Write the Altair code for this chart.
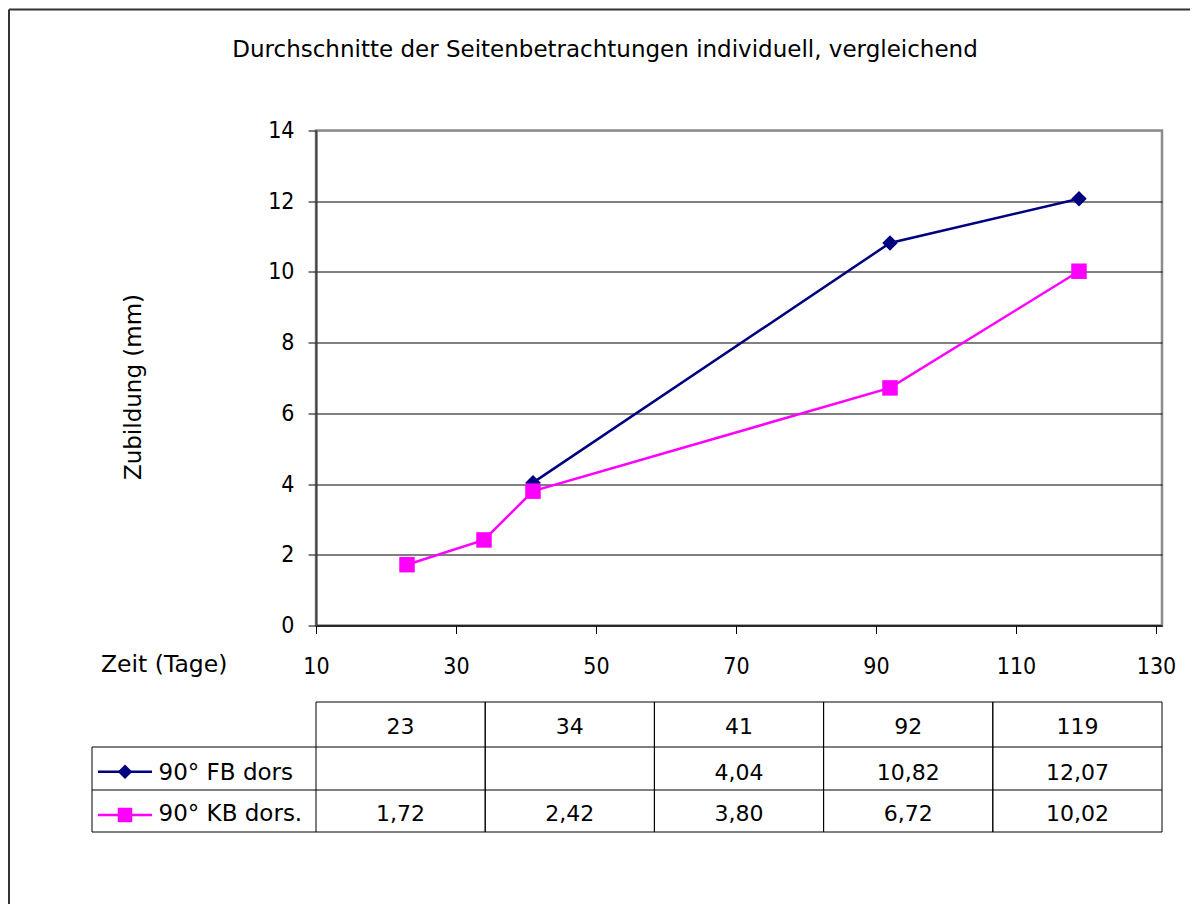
import altair as alt
import pandas as pd

# ---------------- data ----------------
days = [23, 34, 41, 92, 119]
series_names = ["90° FB dors", "90° KB dors."]
fb_values = [None, None, 4.04, 10.82, 12.07]
kb_values = [1.72, 2.42, 3.80, 6.72, 10.02]
x_ticks = [10, 30, 50, 70, 90, 110, 130]
y_ticks = [0, 2, 4, 6, 8, 10, 12, 14]

title_text = "Durchschnitte der Seitenbetrachtungen individuell, vergleichend"
x_title = "Zeit (Tage)"
y_title = "Zubildung (mm)"

colors = ["#000080", "#FF00FF"]
shapes = ["diamond", "square"]

FONT_NUM = "DejaVu Sans Condensed"
FONT_TXT = "DejaVu Sans"
FS_TICK = 23
FS_TXT = 23
FS_TABLE = 22
W, H = 846, 495

# long-format data for lines
rows = []
for name, vals in zip(series_names, [fb_values, kb_values]):
    for d, v in zip(days, vals):
        if v is not None:
            rows.append({"Serie": name, "Zeit": d, "Zubildung": v})
line_df = pd.DataFrame(rows)

day_cols = [str(d) for d in days]


def fmt(v):
    return "" if v is None else f"{v:.2f}".replace(".", ",")


header_df = pd.DataFrame({"col": day_cols})
fb_row_df = pd.DataFrame({"col": day_cols, "label": [fmt(v) for v in fb_values]})
kb_row_df = pd.DataFrame({"col": day_cols, "label": [fmt(v) for v in kb_values]})

one = pd.DataFrame({"a": [0]})

color_scale = alt.Scale(domain=series_names, range=colors)
shape_scale = alt.Scale(domain=series_names, range=shapes)

# ---------------- main plot ----------------
x_enc = alt.X(
    "Zeit:Q",
    scale=alt.Scale(domain=[10, 10 + W / 7.0], nice=False, zero=False),
    axis=alt.Axis(
        values=x_ticks, grid=False, title=None, tickSize=8, tickColor="black",
        domainColor="black", domainWidth=1, labelFontSize=FS_TICK, labelFont=FONT_NUM,
        labelColor="black", labelPadding=22, labelFlush=False, labelOverlap=False,
    ),
)
y_enc = alt.Y(
    "Zubildung:Q",
    scale=alt.Scale(domain=[0, 14], nice=False),
    axis=alt.Axis(
        values=y_ticks, grid=True,
        gridColor=alt.condition("datum.value == 14", alt.value("#8c8c8c"), alt.value("black")),
        gridWidth=1, title=None, tickSize=8, tickColor="black",
        domainColor="#404040", domainWidth=2, labelFontSize=FS_TICK, labelFont=FONT_NUM,
        labelColor="black", labelPadding=14,
    ),
)

lines = alt.Chart(line_df).mark_line(strokeWidth=2.5).encode(
    x=x_enc, y=y_enc,
    color=alt.Color("Serie:N", scale=color_scale, legend=None),
    detail="Serie:N",
)
points = alt.Chart(line_df).mark_point(filled=True, opacity=1, size=240).encode(
    x="Zeit:Q", y="Zubildung:Q",
    color=alt.Color("Serie:N", scale=color_scale, legend=None),
    shape=alt.Shape("Serie:N", scale=shape_scale, legend=None),
)
main = alt.layer(lines, points)

# ---------------- decorations ----------------
def text_layer(txt, x, y, align="center", baseline="alphabetic", angle=0,
               size=FS_TXT, font=FONT_TXT):
    kw = dict(text=txt, align=align, baseline=baseline, font=font, fontSize=size, color="black")
    if angle:
        kw["angle"] = angle
    return alt.Chart(one).mark_text(**kw).encode(x=alt.value(x), y=alt.value(y))


def hrule(x1, x2, y, color="black", w=1):
    return alt.Chart(one).mark_rule(color=color, strokeWidth=w).encode(
        x=alt.value(x1), x2=alt.value(x2), y=alt.value(y)
    )


def vrule(x, y1, y2, color="black", w=1):
    return alt.Chart(one).mark_rule(color=color, strokeWidth=w).encode(
        x=alt.value(x), y=alt.value(y1), y2=alt.value(y2)
    )


# outer frame (left & top visible)
frame_top = hrule(-307, W + 40, -121, color="#333333", w=2)
frame_left = vrule(-307, -121, 800, color="#333333", w=2)

title = text_layer(title_text, 289, -74)
xt = text_layer(x_title, -215, 541, align="left", size=23.5)
yt = text_layer(y_title, -175, 256.5, angle=270)

# ---------------- data table ----------------
T0, T1, T2, T3 = 571.5, 616.5, 659.5, 701.5
LX = -224

band = alt.Scale(domain=day_cols, paddingInner=0, paddingOuter=0)


def col_x(bp=0.5):
    return alt.X("col:N", scale=band, axis=None, sort=day_cols, bandPosition=bp)


table_h = alt.layer(
    hrule(0, W, T0), hrule(LX, W, T1), hrule(LX, W, T2), hrule(LX, W, T3),
    vrule(LX, T1, T3),
)
vlines_left = alt.Chart(header_df).mark_rule(color="black", strokeWidth=1).encode(
    x=col_x(0), y=alt.value(T0), y2=alt.value(T3)
)
vlines_right = alt.Chart(header_df).mark_rule(color="black", strokeWidth=1).encode(
    x=col_x(1), y=alt.value(T0), y2=alt.value(T3)
)
header_txt = alt.Chart(header_df).mark_text(
    font=FONT_TXT, fontSize=FS_TABLE, color="black", baseline="alphabetic"
).encode(x=col_x(), y=alt.value(603), text="col:N")
fb_txt = alt.Chart(fb_row_df).mark_text(
    font=FONT_TXT, fontSize=FS_TABLE, color="black", baseline="alphabetic"
).encode(x=col_x(), y=alt.value(649.5), text="label:N")
kb_txt = alt.Chart(kb_row_df).mark_text(
    font=FONT_TXT, fontSize=FS_TABLE, color="black", baseline="alphabetic"
).encode(x=col_x(), y=alt.value(690.5), text="label:N")


def legend_sample(i, yline, ytext):
    r = alt.Chart(one).mark_rule(color=colors[i], strokeWidth=2.5).encode(
        x=alt.value(-218), x2=alt.value(-164), y=alt.value(yline)
    )
    p = alt.Chart(one).mark_point(
        shape=shapes[i], filled=True, opacity=1, size=210, color=colors[i]
    ).encode(x=alt.value(-191), y=alt.value(yline))
    t = text_layer(series_names[i], -157.5, ytext, align="left")
    return alt.layer(r, p, t)


leg1 = legend_sample(0, 641.2, 649.5)
leg2 = legend_sample(1, 684.5, 690.5)

chart = alt.layer(
    frame_top, frame_left, title, xt, yt,
    table_h, vlines_left, vlines_right, header_txt, fb_txt, kb_txt,
    leg1, leg2,
    main,
).resolve_scale(x="independent").properties(
    width=W, height=H,
    autosize=alt.AutoSizeParams(type="none"),
    padding={"left": 308, "top": 122.5, "right": 28, "bottom": 278},
).configure_view(
    stroke="#8c8c8c", strokeWidth=2.5
)

chart.save("out.html", embed_options={"renderer": "svg", "actions": False})
